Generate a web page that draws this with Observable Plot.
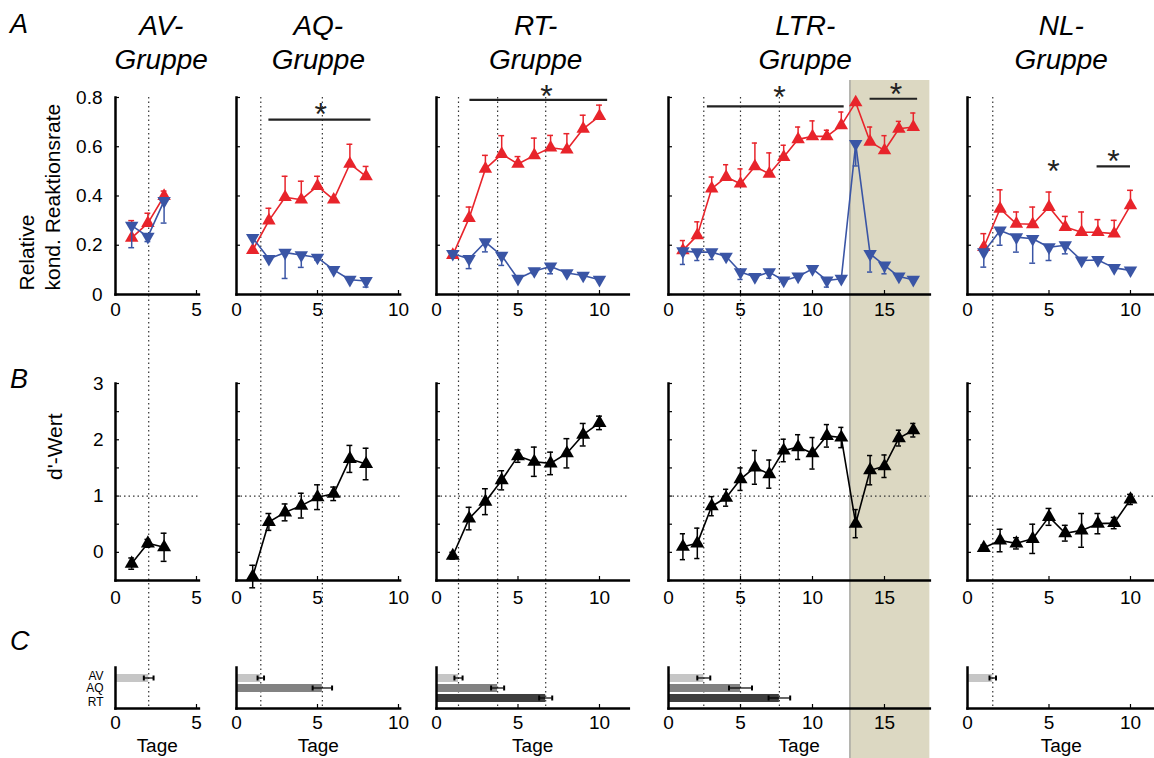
<!DOCTYPE html>
<html><head><meta charset="utf-8">
<script src="https://cdn.jsdelivr.net/npm/d3@7"></script>
<script src="https://cdn.jsdelivr.net/npm/@observablehq/plot@0.6"></script>
<style>
html,body{margin:0;padding:0;background:#fff;}
#fig{position:relative;width:1154px;height:758px;overflow:hidden;background:#fff;font-family:"Liberation Sans",Arial,sans-serif;}
#fig svg{position:absolute;}
.letter{position:absolute;font-style:italic;font-size:27px;line-height:27px;color:#000;}
</style></head><body>
<div id="fig">
<div class="letter" style="left:10px;top:11px">A</div>
<div class="letter" style="left:10px;top:366px">B</div>
<div class="letter" style="left:10px;top:628px">C</div>
</div>
<script>
// ---------------- data ----------------
const groups = ["AV", "AQ", "RT", "LTR", "NL"];
const groupTitles = ["AV-", "AQ-", "RT-", "LTR-", "NL-"];
const groupSuffix = "Gruppe";
const phases = ["AV", "AQ", "RT"];
const phaseGray = ["#c6c6c6", "#828282", "#3e3e3e"];

const AV_days = [1, 2, 3];
const AQ_days = [1, 2, 3, 4, 5, 6, 7, 8];
const RT_days = [1, 2, 3, 4, 5, 6, 7, 8, 9, 10];
const LTR_days = [1, 2, 3, 4, 5, 6, 7, 8, 9, 10, 11, 12, 13, 14, 15, 16, 17];
const NL_days = [1, 2, 3, 4, 5, 6, 7, 8, 9, 10];

// A: relative conditioned response rate (red = CS+, blue = CS-)
const AV_red = [0.23, 0.29, 0.40];
const AV_redErr = [0.07, 0.04, 0.02];
const AV_blue = [0.28, 0.235, 0.38];
const AV_blueErr = [0.09, 0.02, 0.09];
const AQ_red = [0.18, 0.30, 0.395, 0.385, 0.44, 0.385, 0.53, 0.48];
const AQ_redErr = [0, 0.05, 0.085, 0.075, 0.04, 0, 0.08, 0.04];
const AQ_blue = [0.23, 0.145, 0.17, 0.16, 0.15, 0.10, 0.06, 0.055];
const AQ_blueErr = [0, 0, 0.105, 0.05, 0.01, 0, 0, 0.025];
const RT_red = [0.16, 0.31, 0.51, 0.57, 0.53, 0.565, 0.596, 0.588, 0.673, 0.724];
const RT_redErr = [0, 0.045, 0.055, 0.075, 0.03, 0.07, 0.05, 0.065, 0.055, 0.045];
const RT_blue = [0.165, 0.145, 0.213, 0.158, 0.064, 0.095, 0.114, 0.087, 0.077, 0.06];
const RT_blueErr = [0, 0.04, 0.04, 0.04, 0, 0.01, 0.03, 0, 0, 0];
const LTR_red = [0.179, 0.24, 0.43, 0.477, 0.45, 0.52, 0.49, 0.558, 0.63, 0.642, 0.642, 0.687, 0.78, 0.62, 0.585, 0.673, 0.68];
const LTR_redErr = [0.04, 0.055, 0.047, 0.05, 0.06, 0.095, 0.085, 0.048, 0.05, 0.063, 0.025, 0.054, 0, 0.06, 0.06, 0.03, 0.057];
const LTR_blue = [0.176, 0.172, 0.172, 0.154, 0.091, 0.071, 0.091, 0.057, 0.073, 0.104, 0.057, 0.064, 0.612, 0.165, 0.118, 0.073, 0.06];
const LTR_blueErr = [0.054, 0.034, 0.03, 0, 0.03, 0, 0.025, 0, 0, 0, 0.027, 0, 0.09, 0.074, 0.034, 0, 0];
const NL_red = [0.192, 0.348, 0.287, 0.285, 0.355, 0.274, 0.253, 0.253, 0.247, 0.362];
const NL_redErr = [0.055, 0.077, 0.048, 0.07, 0.061, 0.043, 0.082, 0.051, 0.054, 0.061];
const NL_blue = [0.172, 0.26, 0.233, 0.226, 0.192, 0.2, 0.138, 0.14, 0.108, 0.098];
const NL_blueErr = [0.061, 0.06, 0.061, 0.099, 0.054, 0.035, 0, 0, 0, 0];

// B: d' values
const AV_d = [-0.2, 0.16, 0.09];
const AV_dErr = [0.1, 0.07, 0.25];
const AQ_d = [-0.43, 0.54, 0.71, 0.83, 0.98, 1.04, 1.66, 1.57];
const AQ_dErr = [0.2, 0.15, 0.15, 0.22, 0.22, 0.12, 0.24, 0.28];
const RT_d = [-0.06, 0.6, 0.9, 1.28, 1.71, 1.61, 1.58, 1.76, 2.09, 2.3];
const RT_dErr = [0.06, 0.2, 0.23, 0.17, 0.11, 0.26, 0.2, 0.26, 0.2, 0.12];
const LTR_d = [0.1, 0.16, 0.82, 0.97, 1.3, 1.51, 1.39, 1.81, 1.87, 1.76, 2.07, 2.04, 0.51, 1.46, 1.53, 2.03, 2.17];
const LTR_dErr = [0.23, 0.27, 0.17, 0.15, 0.2, 0.3, 0.25, 0.2, 0.22, 0.28, 0.2, 0.18, 0.25, 0.26, 0.2, 0.14, 0.12];
const NL_d = [0.08, 0.21, 0.16, 0.24, 0.63, 0.34, 0.39, 0.51, 0.52, 0.94];
const NL_dErr = [0.05, 0.2, 0.1, 0.26, 0.15, 0.14, 0.3, 0.18, 0.1, 0.09];

// C: days to criterion per phase
const AV_crit = [2.05];
const AV_critErr = [0.3];
const AQ_crit = [1.5, 5.3];
const AQ_critErr = [0.2, 0.6];
const RT_crit = [1.35, 3.75, 6.7];
const RT_critErr = [0.25, 0.4, 0.4];
const LTR_crit = [2.45, 5.0, 7.7];
const LTR_critErr = [0.45, 0.8, 0.75];
const NL_crit = [1.55];
const NL_critErr = [0.2];

// reversal phase (shaded) in LTR group
const LTR_reversal = [12.6, 18.15];

// significance bars and stars (panel A)
const sigGroup = ["AQ", "RT", "LTR", "LTR", "NL"];
const sigFrom = [2.0, 2.05, 2.7, 14.0, 7.95];
const sigTo = [8.3, 10.5, 12.2, 17.3, 10.0];
const sigAt = [0.71, 0.79, 0.764, 0.795, 0.52];
const starGroup = ["AQ", "RT", "LTR", "LTR", "NL", "NL"];
const starX = [5.2, 6.75, 7.7, 15.8, 5.28, 8.95];
const starY = [0.756, 0.829, 0.824, 0.836, 0.524, 0.565];

const xTickValues = [0, 5, 10, 15];
const yTicksA = [0, 0.2, 0.4, 0.6, 0.8];
const yTicksB = [0, 1, 2, 3];
const yMinorB = [-0.5, 0, 0.5, 1, 1.5, 2, 2.5, 3];
const dPrimeRef = [1];
const yLabelA = ["Relative", "kond. Reaktionsrate"];
const yLabelB = ["d'-Wert"];
const xLabel = ["Tage"];

// ---------------- lookups built from the arrays ----------------
const seriesA = {
  AV: [AV_days, AV_red, AV_redErr, AV_blue, AV_blueErr],
  AQ: [AQ_days, AQ_red, AQ_redErr, AQ_blue, AQ_blueErr],
  RT: [RT_days, RT_red, RT_redErr, RT_blue, RT_blueErr],
  LTR: [LTR_days, LTR_red, LTR_redErr, LTR_blue, LTR_blueErr],
  NL: [NL_days, NL_red, NL_redErr, NL_blue, NL_blueErr]
};
const seriesB = {
  AV: [AV_days, AV_d, AV_dErr], AQ: [AQ_days, AQ_d, AQ_dErr], RT: [RT_days, RT_d, RT_dErr],
  LTR: [LTR_days, LTR_d, LTR_dErr], NL: [NL_days, NL_d, NL_dErr]
};
const seriesC = {
  AV: [AV_crit, AV_critErr], AQ: [AQ_crit, AQ_critErr], RT: [RT_crit, RT_critErr],
  LTR: [LTR_crit, LTR_critErr], NL: [NL_crit, NL_critErr]
};
const sigRows = sigGroup.map((g, i) => ({group: g, from: sigFrom[i], to: sigTo[i], at: sigAt[i]}));
const starRows = starGroup.map((g, i) => ({group: g, x: starX[i], y: starY[i]}));

// ---------------- layout ----------------
const cols = {
  AV: {x0: 115, k: 16.2, xmax: 5.15, ML: 115, MR: 12, titleDx: 4},
  AQ: {x0: 236, k: 16.2, xmax: 10.1, ML: 30, MR: 12, titleDx: 0},
  RT: {x0: 436, k: 16.3, xmax: 11.8, ML: 30, MR: 12, titleDx: 3},
  LTR: {x0: 668, k: 14.4, xmax: 18.15, ML: 30, MR: 12, titleDx: 6},
  NL: {x0: 967, k: 16.3, xmax: 11.5, ML: 30, MR: 12, titleDx: 0}
};
const rowL = {
  A: {top: 97, h: 197, mt: 97, mb: 40},
  B: {top: 383, h: 197, mt: 30, mb: 40},
  C: {top: 667, h: 41, mt: 20, mb: 50}
};
const RED = "#e8242b", BLUE = "#3a55a5";
const FONT = "Liberation Sans, Arial, sans-serif";
const TICKFS = 19;
const fmt = v => String(v);
const fig = document.getElementById("fig");

const triDown = {
  draw(ctx, size) {
    const y = Math.sqrt(size / (Math.sqrt(3) * 3));
    ctx.moveTo(0, 2 * y);
    ctx.lineTo(-Math.sqrt(3) * y, -y);
    ctx.lineTo(Math.sqrt(3) * y, -y);
    ctx.closePath();
  }
};

function base(c, r) {
  return {
    width: c.ML + c.k * c.xmax + c.MR,
    height: r.mt + r.h + r.mb,
    marginLeft: c.ML, marginRight: c.MR, marginTop: r.mt, marginBottom: r.mb,
    style: {background: "transparent", fontFamily: FONT, fontSize: "18px", color: "#000", overflow: "visible"}
  };
}
function place(svg, c, top) {
  svg.style.left = (c.x0 - c.ML) + "px";
  svg.style.top = top + "px";
  fig.appendChild(svg);
}
const axisLines = () => [
  Plot.frame({anchor: "left", strokeWidth: 2.5, strokeLinecap: "square"}),
  Plot.frame({anchor: "bottom", strokeWidth: 2.5, strokeLinecap: "square"})
];

// ---------------- overlays (shade + criterion lines) ----------------
{
  const c = cols.LTR;
  const svg = Plot.plot({
    ...base(c, {mt: 0, h: 678, mb: 0}),
    x: {domain: [0, c.xmax], axis: null},
    marks: [
      Plot.barX([LTR_reversal], {x1: d => d[0], x2: d => d[1], fill: "#dcd8c2"}),
      Plot.ruleX([LTR_reversal[0]], {stroke: "#9a9a9a", strokeWidth: 1.2})
    ]
  });
  place(svg, c, 80);
}
groups.forEach(g => {
  const c = cols[g];
  const svg = Plot.plot({
    ...base(c, {mt: 0, h: 609, mb: 0}),
    x: {domain: [0, c.xmax], axis: null},
    marks: [Plot.ruleX(seriesC[g][0], {stroke: "#333", strokeDasharray: "1.5,3", strokeWidth: 1.2})]
  });
  place(svg, c, 97);
});

// ---------------- row A ----------------
groups.forEach((g, gi) => {
  const c = cols[g], r = rowL.A;
  const [days, red, redErr, blue, blueErr] = seriesA[g];
  const rows = days.map((day, i) => ({day, red: red[i], redErr: redErr[i], blue: blue[i], blueErr: blueErr[i]}));
  const rE = rows.filter(d => d.redErr > 0), bE = rows.filter(d => d.blueErr > 0);
  const frameW = c.k * c.xmax;
  const xt = xTickValues.filter(v => v <= c.xmax);
  const marks = [
    Plot.tickY(yTicksA, {y: v => v, insetRight: frameW - 4, strokeWidth: 1.2}),
    Plot.tickX(xt.filter(v => v > 0), {x: v => v, insetTop: r.h - 4, strokeWidth: 1.2}),
    ...axisLines(),
    Plot.axisX({ticks: xt, tickFormat: fmt, tickSize: 0, tickPadding: 8, fontSize: TICKFS, label: null}),
    Plot.ruleX(rE, {x: "day", y1: "red", y2: d => d.red + d.redErr, stroke: RED, strokeWidth: 1.5}),
    Plot.ruleY(rE, {x1: d => d.day - 0.18, x2: d => d.day + 0.18, y: d => d.red + d.redErr, stroke: RED, strokeWidth: 1.5}),
    Plot.line(rows, {x: "day", y: "red", stroke: RED, strokeWidth: 1.6}),
    Plot.dot(rows, {x: "day", y: "red", symbol: "triangle", r: 5, fill: RED}),
    Plot.ruleX(bE, {x: "day", y1: "blue", y2: d => d.blue - d.blueErr, stroke: BLUE, strokeWidth: 1.5}),
    Plot.ruleY(bE, {x1: d => d.day - 0.18, x2: d => d.day + 0.18, y: d => d.blue - d.blueErr, stroke: BLUE, strokeWidth: 1.5}),
    Plot.line(rows, {x: "day", y: "blue", stroke: BLUE, strokeWidth: 1.6}),
    Plot.dot(rows, {x: "day", y: "blue", symbol: triDown, r: 5, fill: BLUE}),
    Plot.ruleY(sigRows.filter(s => s.group === g), {x1: "from", x2: "to", y: "at", stroke: "#222", strokeWidth: 2.2}),
    Plot.text(starRows.filter(s => s.group === g), {x: "x", y: "y", text: () => "*", fontSize: 32, dy: 6, fill: "#222"}),
    Plot.text([groupTitles[gi]], {text: d => d, frameAnchor: "top", lineAnchor: "middle", dx: c.titleDx, dy: -71, fontSize: 28, fontStyle: "italic"}),
    Plot.text([groupSuffix], {text: d => d, frameAnchor: "top", lineAnchor: "middle", dx: c.titleDx, dy: -37, fontSize: 28, fontStyle: "italic"})
  ];
  if (gi === 0) {
    marks.push(
      Plot.axisY({ticks: yTicksA, tickFormat: fmt, tickSize: 0, tickPadding: 13, fontSize: TICKFS, label: null}),
      Plot.text([yLabelA[0]], {text: d => d, frameAnchor: "bottom-left", lineAnchor: "middle", dx: -88, dy: -4, rotate: -90, textAnchor: "start", fontSize: 21}),
      Plot.text([yLabelA[1]], {text: d => d, frameAnchor: "bottom-left", lineAnchor: "middle", dx: -62, dy: -4, rotate: -90, textAnchor: "start", fontSize: 21})
    );
  }
  const svg = Plot.plot({
    ...base(c, r),
    x: {domain: [0, c.xmax], label: null},
    y: gi === 0 ? {domain: [0, 0.8], label: null} : {domain: [0, 0.8], axis: null},
    marks
  });
  place(svg, c, r.top - r.mt);
});

// ---------------- row B ----------------
groups.forEach((g, gi) => {
  const c = cols[g], r = rowL.B;
  const [days, dv, de] = seriesB[g];
  const rows = days.map((day, i) => ({day, d: dv[i], e: de[i]}));
  const frameW = c.k * c.xmax;
  const xt = xTickValues.filter(v => v <= c.xmax);
  const marks = [
    Plot.tickY(yMinorB, {y: v => v, insetRight: frameW - 4, strokeWidth: 1.2}),
    Plot.tickX(xt.filter(v => v > 0), {x: v => v, insetTop: r.h - 4, strokeWidth: 1.2}),
    Plot.ruleY(dPrimeRef, {stroke: "#333", strokeDasharray: "1.5,3", strokeWidth: 1.2}),
    ...axisLines(),
    Plot.axisX({ticks: xt, tickFormat: fmt, tickSize: 0, tickPadding: 10, fontSize: TICKFS, label: null}),
    Plot.ruleX(rows, {x: "day", y1: d => d.d - d.e, y2: d => d.d + d.e, stroke: "#000", strokeWidth: 1.5}),
    Plot.ruleY(rows, {x1: d => d.day - 0.18, x2: d => d.day + 0.18, y: d => d.d + d.e, stroke: "#000", strokeWidth: 1.5}),
    Plot.ruleY(rows, {x1: d => d.day - 0.18, x2: d => d.day + 0.18, y: d => d.d - d.e, stroke: "#000", strokeWidth: 1.5}),
    Plot.line(rows, {x: "day", y: "d", stroke: "#000", strokeWidth: 1.6}),
    Plot.dot(rows, {x: "day", y: "d", symbol: "triangle", r: 5.2, fill: "#000"})
  ];
  if (gi === 0) {
    marks.push(
      Plot.axisY({ticks: yTicksB, tickFormat: fmt, tickSize: 0, tickPadding: 12, fontSize: TICKFS, label: null}),
      Plot.text(yLabelB, {text: d => d, frameAnchor: "left", lineAnchor: "middle", dx: -60, dy: -2, rotate: -90, fontSize: 21})
    );
  }
  const svg = Plot.plot({
    ...base(c, r),
    x: {domain: [0, c.xmax], label: null},
    y: gi === 0 ? {domain: [-0.5, 3], label: null} : {domain: [-0.5, 3], axis: null},
    marks
  });
  place(svg, c, r.top - r.mt);
});

// ---------------- row C ----------------
groups.forEach((g, gi) => {
  const c = cols[g], r = rowL.C;
  const [crit, err] = seriesC[g];
  const rows = crit.map((v, i) => ({phase: phases[i], crit: v, err: err[i]}));
  const xt = xTickValues.filter(v => v <= c.xmax);
  const marks = [
    Plot.tickX(xt.filter(v => v > 0), {x: v => v, insetTop: r.h - 4, strokeWidth: 1.2}),
    Plot.barX(rows, {x: "crit", y: "phase", fill: "phase"}),
    Plot.barX(rows, {x1: d => d.crit - d.err, x2: d => d.crit + d.err, y: "phase", fill: "#000", insetTop: 3.4, insetBottom: 3.4}),
    Plot.tickX(rows, {x: d => d.crit - d.err, y: "phase", strokeWidth: 2, insetTop: 1.5, insetBottom: 1.5}),
    Plot.tickX(rows, {x: d => d.crit + d.err, y: "phase", strokeWidth: 2, insetTop: 1.5, insetBottom: 1.5}),
    ...axisLines(),
    Plot.axisX({ticks: xt, tickFormat: fmt, tickSize: 0, tickPadding: 7, fontSize: TICKFS, label: null}),
    Plot.text(xLabel, {text: d => d, frameAnchor: "bottom", lineAnchor: "middle", dy: 37, fontSize: 19})
  ];
  if (gi === 0) {
    const labelShift = [-2.8, 0, 3.4];
    phases.forEach((p, i) => marks.push(
      Plot.text([p], {y: d => d, text: d => d, frameAnchor: "left", textAnchor: "end", dx: -12, dy: labelShift[i], fontSize: 12})
    ));
  }
  const svg = Plot.plot({
    ...base(c, r),
    x: {domain: [0, c.xmax], label: null},
    y: {domain: phases, type: "band", paddingInner: 0.2, paddingOuter: 0.5, axis: null},
    color: {domain: phases, range: phaseGray},
    marks
  });
  place(svg, c, r.top - r.mt);
});
</script></body></html>
